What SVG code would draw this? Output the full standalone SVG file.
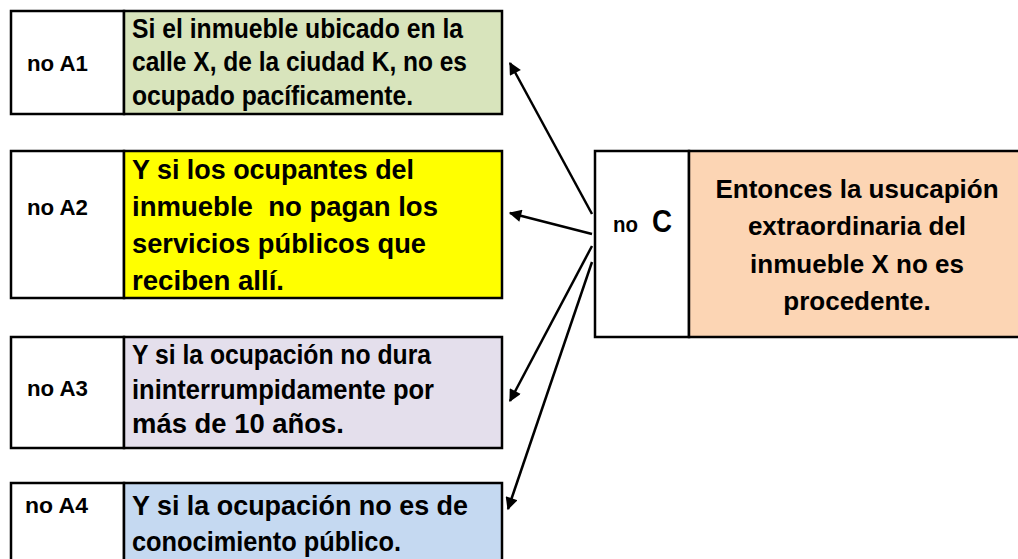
<svg xmlns="http://www.w3.org/2000/svg" width="1018" height="559" viewBox="0 0 1018 559">
<defs>
<style>
.b{stroke:#000;stroke-width:2.5}
.t{font-family:"Liberation Sans",Arial,sans-serif;font-weight:bold;font-size:28px;fill:#000}
.l{font-family:"Liberation Sans",Arial,sans-serif;font-weight:bold;font-size:22.5px;fill:#000}
.c{font-family:"Liberation Sans",Arial,sans-serif;font-weight:bold;font-size:26px;fill:#000;text-anchor:middle}
.a{stroke:#000;stroke-width:2.5;fill:none}
</style>
<marker id="ah" viewBox="0 0 10 10" refX="9" refY="5" markerWidth="6" markerHeight="5" markerUnits="strokeWidth" orient="auto">
<path d="M0,0 L10,5 L0,10 z" fill="#000"/>
</marker>
</defs>
<rect width="1018" height="559" fill="#fff"/>
<g id="A1">
<rect x="11" y="11" width="113" height="103" fill="#fff" class="b"/>
<rect x="124" y="11" width="378" height="103" fill="#D8E4BC" class="b"/>
<text class="l" x="27" y="71" textLength="61" lengthAdjust="spacingAndGlyphs">no A1</text>
<text class="t" x="132" y="37.5" textLength="331" lengthAdjust="spacingAndGlyphs">Si el inmueble ubicado en la</text>
<text class="t" x="132" y="71" textLength="335" lengthAdjust="spacingAndGlyphs">calle X, de la ciudad K, no es</text>
<text class="t" x="132" y="104.5" textLength="281" lengthAdjust="spacingAndGlyphs">ocupado pacíficamente.</text>
</g>
<g id="A2">
<rect x="11" y="151" width="113" height="147" fill="#fff" class="b"/>
<rect x="124" y="151" width="378" height="147" fill="#FFFF00" class="b"/>
<text class="l" x="27" y="215" textLength="61" lengthAdjust="spacingAndGlyphs">no A2</text>
<text class="t" x="132" y="178.5" textLength="282" lengthAdjust="spacingAndGlyphs">Y si los ocupantes del</text>
<text class="t" x="132" y="215.5" textLength="306" lengthAdjust="spacingAndGlyphs" xml:space="preserve">inmueble  no pagan los</text>
<text class="t" x="132" y="252.5" textLength="294" lengthAdjust="spacingAndGlyphs">servicios públicos que</text>
<text class="t" x="132" y="289.5" textLength="152" lengthAdjust="spacingAndGlyphs">reciben allí.</text>
</g>
<g id="A3">
<rect x="11" y="337" width="113" height="111" fill="#fff" class="b"/>
<rect x="124" y="337" width="378" height="111" fill="#E4DFEC" class="b"/>
<text class="l" x="27" y="396" textLength="61" lengthAdjust="spacingAndGlyphs">no A3</text>
<text class="t" x="132" y="364" textLength="299" lengthAdjust="spacingAndGlyphs">Y si la ocupación no dura</text>
<text class="t" x="132" y="398.5" textLength="302" lengthAdjust="spacingAndGlyphs">ininterrumpidamente por</text>
<text class="t" x="132" y="433" textLength="212" lengthAdjust="spacingAndGlyphs">más de 10 años.</text>
</g>
<g id="A4">
<rect x="11" y="483" width="113" height="90" fill="#fff" class="b"/>
<rect x="124" y="483" width="378" height="90" fill="#C5D9F1" class="b"/>
<text class="l" x="25" y="513" textLength="63" lengthAdjust="spacingAndGlyphs">no A4</text>
<text class="t" x="132" y="515" textLength="336" lengthAdjust="spacingAndGlyphs">Y si la ocupación no es de</text>
<text class="t" x="132" y="551" textLength="269" lengthAdjust="spacingAndGlyphs">conocimiento público.</text>
</g>
<g id="C">
<rect x="595" y="151" width="94" height="186" fill="#fff" class="b"/>
<rect x="689" y="151" width="331" height="186" fill="#FCD5B4" class="b"/>
<text class="l" x="613" y="232" textLength="25" lengthAdjust="spacingAndGlyphs">no</text>
<text x="652" y="232" textLength="20" lengthAdjust="spacingAndGlyphs" style="font-family:'Liberation Sans',Arial,sans-serif;font-weight:bold;font-size:31px">C</text>
<text class="c" x="857" y="197.5">Entonces la usucapión</text>
<text class="c" x="857" y="235">extraordinaria del</text>
<text class="c" x="857" y="272.5">inmueble X no es</text>
<text class="c" x="857" y="309.5">procedente.</text>
</g>
<g id="connectors">
<line class="a" x1="592" y1="214" x2="510" y2="63" marker-end="url(#ah)"/>
<line class="a" x1="592" y1="234" x2="510" y2="213" marker-end="url(#ah)"/>
<line class="a" x1="592" y1="246" x2="510" y2="401" marker-end="url(#ah)"/>
<line class="a" x1="592" y1="262" x2="508" y2="509" marker-end="url(#ah)"/>
</g>
</svg>
